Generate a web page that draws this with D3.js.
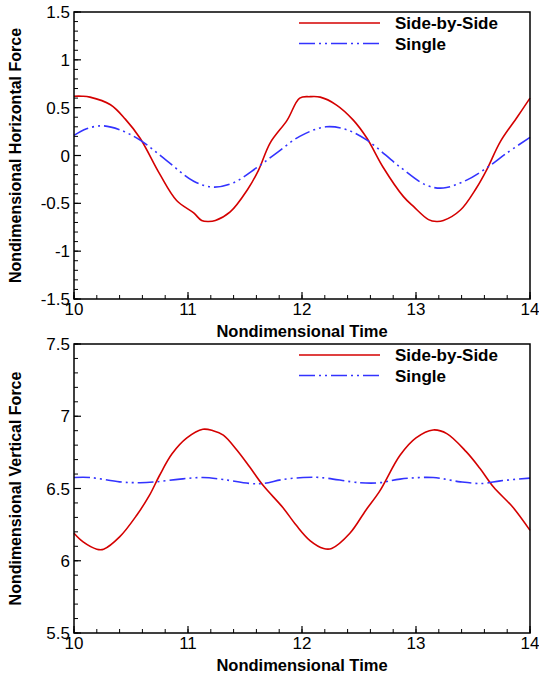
<!DOCTYPE html>
<html><head><meta charset="utf-8">
<script src="https://cdn.jsdelivr.net/npm/d3@7"></script>
<style>
html,body{margin:0;padding:0;background:#fff;}
svg text{font-family:"Liberation Sans",Arial,sans-serif;}
</style></head>
<body>
<svg id="c" width="539" height="673"></svg>
<script>
// ---- Data ----
const xTicks = [10, 11, 12, 13, 14];
const hTicks = [-1.5, -1, -0.5, 0, 0.5, 1, 1.5];
const vTicks = [5.5, 6, 6.5, 7, 7.5];
const seriesNames = ["Side-by-Side", "Single"];

const hSideT = [10.0,10.07,10.14,10.32,10.45,10.58,10.75,10.90,11.05,11.12,11.18,11.24,11.37,11.52,11.62,11.72,11.87,11.98,12.07,12.16,12.30,12.45,12.57,12.71,12.89,12.98,13.11,13.18,13.24,13.39,13.53,13.62,13.74,13.89,14.0];
const hSideV = [0.62,0.62,0.61,0.53,0.38,0.18,-0.19,-0.47,-0.60,-0.68,-0.69,-0.68,-0.59,-0.36,-0.15,0.13,0.37,0.60,0.615,0.61,0.53,0.37,0.18,-0.12,-0.43,-0.535,-0.67,-0.69,-0.68,-0.57,-0.34,-0.15,0.145,0.405,0.60];

const hSingleT = [10.0,10.11,10.25,10.40,10.58,10.81,11.05,11.22,11.39,11.60,11.77,11.98,12.21,12.39,12.57,12.86,13.09,13.24,13.44,13.62,13.79,14.0];
const hSingleV = [0.21,0.28,0.31,0.27,0.16,-0.05,-0.27,-0.33,-0.29,-0.13,0.02,0.20,0.30,0.27,0.16,-0.12,-0.31,-0.34,-0.26,-0.13,0.02,0.19];

const vSideT = [10.0,10.08,10.20,10.26,10.40,10.55,10.66,10.75,10.86,10.99,11.13,11.22,11.31,11.43,11.54,11.66,11.83,11.95,12.07,12.19,12.26,12.42,12.56,12.68,12.86,13.00,13.15,13.27,13.44,13.56,13.68,13.85,14.0];
const vSideV = [6.19,6.13,6.08,6.08,6.165,6.315,6.45,6.59,6.74,6.85,6.91,6.90,6.87,6.765,6.65,6.52,6.37,6.245,6.14,6.085,6.085,6.19,6.35,6.48,6.73,6.85,6.905,6.88,6.755,6.64,6.51,6.37,6.21];

const vSingleT = [10.0,10.14,10.40,10.58,10.72,10.93,11.13,11.31,11.54,11.66,11.83,12.01,12.16,12.51,12.68,12.86,13.15,13.39,13.59,13.74,14.0];
const vSingleV = [6.576,6.576,6.546,6.54,6.546,6.565,6.576,6.562,6.535,6.535,6.562,6.576,6.576,6.54,6.54,6.565,6.576,6.546,6.535,6.553,6.572];

// ---- Drawing ----
const svg = d3.select("#c");
const colors = ["#d40000", "#3333ff"];
const dashes = [null, "16,4,2,4,2,4"];
const L = 74, R = 530;

function panel(top, bottom, domain, yTicks, yTitle, series) {
  const x = d3.scaleLinear().domain([10, 14]).range([L, R]);
  const y = d3.scaleLinear().domain(domain).range([bottom, top]);
  const g = svg.append("g");

  // minor ticks
  const xMinor = d3.range(10, 14.0001, 0.2);
  const yMinor = d3.range(domain[0], domain[1] + 0.0001, 0.1);
  g.selectAll(".xm").data(xMinor).enter().append("line")
    .attr("x1", d => x(d)).attr("x2", d => x(d))
    .attr("y1", bottom).attr("y2", bottom - 4)
    .attr("stroke", "#000").attr("stroke-width", 1);
  g.selectAll(".ym").data(yMinor).enter().append("line")
    .attr("y1", d => y(d)).attr("y2", d => y(d))
    .attr("x1", L).attr("x2", L + 4)
    .attr("stroke", "#000").attr("stroke-width", 1);
  // major ticks
  g.selectAll(".xM").data(xTicks).enter().append("line")
    .attr("x1", d => x(d)).attr("x2", d => x(d))
    .attr("y1", bottom).attr("y2", bottom - 7)
    .attr("stroke", "#000").attr("stroke-width", 1.2);
  g.selectAll(".yM").data(yTicks).enter().append("line")
    .attr("y1", d => y(d)).attr("y2", d => y(d))
    .attr("x1", L).attr("x2", L + 7)
    .attr("stroke", "#000").attr("stroke-width", 1.2);

  // lines
  series.forEach((s, i) => {
    const pts = s.t.map((t, k) => [t, s.v[k]]);
    g.append("path")
      .attr("d", d3.line().x(d => x(d[0])).y(d => y(d[1])).curve(d3.curveCatmullRom.alpha(0.5))(pts))
      .attr("fill", "none").attr("stroke", colors[i]).attr("stroke-width", 1.6)
      .attr("stroke-dasharray", dashes[i]);
  });

  // frame
  g.append("rect").attr("x", L).attr("y", top).attr("width", R - L).attr("height", bottom - top)
    .attr("fill", "none").attr("stroke", "#000").attr("stroke-width", 1.5);

  // tick labels
  g.selectAll(".xl").data(xTicks).enter().append("text")
    .attr("x", d => x(d)).attr("y", bottom + 16)
    .attr("text-anchor", "middle").attr("font-size", 17).text(d => d);
  g.selectAll(".yl").data(yTicks).enter().append("text")
    .attr("x", L - 4).attr("y", d => y(d) + 6)
    .attr("text-anchor", "end").attr("font-size", 17).text(d => d);

  // titles
  g.append("text").attr("x", (L + R) / 2).attr("y", bottom + 38)
    .attr("text-anchor", "middle").attr("font-size", 16.5).attr("font-weight", "bold")
    .text("Nondimensional Time");
  g.append("text").attr("transform", `translate(21,${(top + bottom) / 2}) rotate(-90)`)
    .attr("text-anchor", "middle").attr("font-size", 16).attr("font-weight", "bold")
    .text(yTitle);

  // legend
  seriesNames.forEach((n, i) => {
    const ly = top + 11 + i * 20.5;
    g.append("line").attr("x1", 299).attr("x2", 380).attr("y1", ly).attr("y2", ly)
      .attr("stroke", colors[i]).attr("stroke-width", 1.6).attr("stroke-dasharray", dashes[i]);
    g.append("text").attr("x", 395).attr("y", ly + 6).attr("font-size", 17)
      .attr("font-weight", "bold").text(n);
  });
}

panel(12, 299, [-1.5, 1.5], hTicks, "Nondimensional Horizontal Force",
  [{t: hSideT, v: hSideV}, {t: hSingleT, v: hSingleV}]);
panel(344, 633, [5.5, 7.5], vTicks, "Nondimensional Vertical Force",
  [{t: vSideT, v: vSideV}, {t: vSingleT, v: vSingleV}]);
</script>
</body></html>
